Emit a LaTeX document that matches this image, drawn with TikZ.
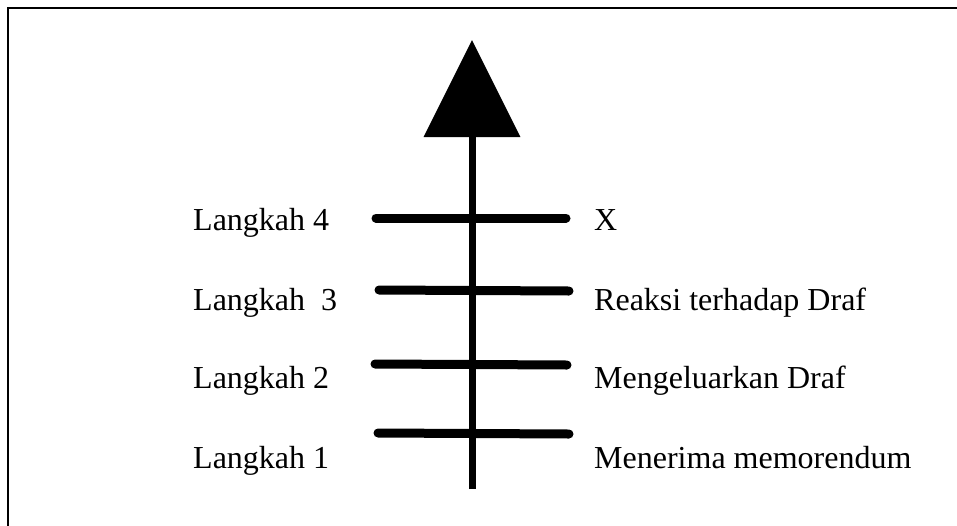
\documentclass[tikz,border=0pt]{standalone}
\usepackage{fontspec}
\setmainfont{Liberation Serif}
\usetikzlibrary{arrows.meta}
\begin{document}
\begin{tikzpicture}[x=1pt,y=-1pt,
  lbl/.style={anchor=base west,inner sep=0pt,font=\fontsize{32}{38}\selectfont},
  tick/.style={line width=9pt,line cap=round},
  stem/.style={line width=7pt,-{Triangle[width=95pt,length=97pt]}},
  frame/.style={line width=1.3pt}]
\useasboundingbox (0,0) rectangle (957,525);
% frame (top and left edges visible)
\coordinate (fbl) at (8,530);
\coordinate (ftl) at (8,8);
\coordinate (ftr) at (962,8);
\draw[frame] (fbl) -- (ftl) -- (ftr);
% stem with arrowhead
\coordinate (bottom) at (472,489);
\coordinate (apex) at (472,40);
\draw[stem] (bottom) -- (apex);
% ticks
\coordinate (t4l) at (376,218); \coordinate (t4r) at (566,218);
\coordinate (t3l) at (379,290); \coordinate (t3r) at (569,291);
\coordinate (t2l) at (375,364); \coordinate (t2r) at (567,365);
\coordinate (t1l) at (378,433); \coordinate (t1r) at (569,434);
\draw[tick] (t4l) -- (t4r);
\draw[tick] (t3l) -- (t3r);
\draw[tick] (t2l) -- (t2r);
\draw[tick] (t1l) -- (t1r);
% labels
\node[lbl] (l4) at (193,230) {Langkah 4};
\node[lbl] (l3) at (193,310) {Langkah\ \ 3};
\node[lbl] (l2) at (193,388) {Langkah 2};
\node[lbl] (l1) at (193,468) {Langkah 1};
\node[lbl] (r4) at (594,230) {X};
\node[lbl] (r3) at (594,310) {Reaksi terhadap Draf};
\node[lbl] (r2) at (594,388) {Mengeluarkan Draf};
\node[lbl] (r1) at (594,468) {Menerima memorendum};
\end{tikzpicture}
\end{document}
